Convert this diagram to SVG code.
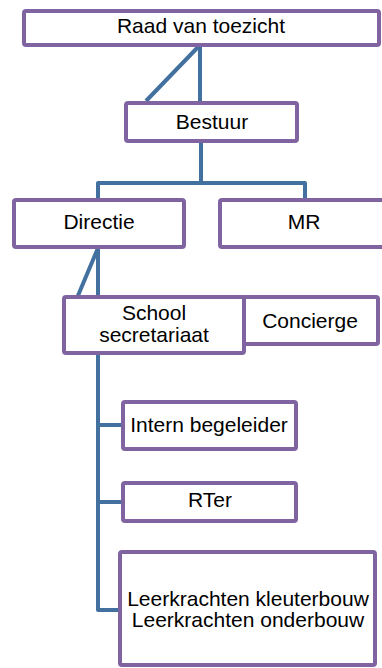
<svg xmlns="http://www.w3.org/2000/svg" width="382" height="668" viewBox="0 0 382 668">
<style>
.box{fill:#fff;stroke:#8064A2;stroke-width:4}
.t{font-family:"Liberation Sans",Arial,sans-serif;font-size:21px;fill:#000;text-anchor:middle}
.c{fill:none;stroke:#43719F;stroke-width:4;stroke-linejoin:round}
</style>
<rect width="382" height="668" fill="#fff"/>
<g id="connectors">
<path class="c" d="M200 45 V104 M200 45 L146 101"/>
<path class="c" d="M201 141 V184 M98 200 V183 H305 V200"/>
<path class="c" d="M98 247 V610 H122 M98 248 L77 298"/>
<path class="c" d="M98 425 H124 M98 502 H124"/>
</g>
<g id="n-raad"><rect class="box" x="24" y="11" width="355" height="34" rx="2"/><text class="t" x="201" y="33">Raad van toezicht</text></g>
<g id="n-bestuur"><rect class="box" x="126" y="103" width="171" height="38" rx="2"/><text class="t" x="212" y="129">Bestuur</text></g>
<g id="n-directie"><rect class="box" x="14" y="200" width="170" height="47" rx="2"/><text class="t" x="99" y="229">Directie</text></g>
<g id="n-mr"><rect class="box" x="220" y="200" width="166" height="47" rx="2"/><text class="t" x="304" y="229">MR</text></g>
<g id="n-concierge"><rect class="box" x="242" y="297" width="136" height="47" rx="2"/><text class="t" x="310" y="328">Concierge</text></g>
<g id="n-school"><rect class="box" x="64" y="297" width="180" height="56" rx="2"/><text class="t" x="154" y="320">School</text><text class="t" x="154" y="342">secretariaat</text></g>
<g id="n-ib"><rect class="box" x="123" y="402" width="173" height="47" rx="2"/><text class="t" x="209" y="432">Intern begeleider</text></g>
<g id="n-rter"><rect class="box" x="123" y="483" width="173" height="38" rx="2"/><text class="t" x="210" y="507">RTer</text></g>
<g id="n-leer"><rect class="box" x="120" y="552" width="255" height="113" rx="2"/><text class="t" x="248" y="606">Leerkrachten kleuterbouw</text><text class="t" x="248" y="627">Leerkrachten onderbouw</text></g>
</svg>
